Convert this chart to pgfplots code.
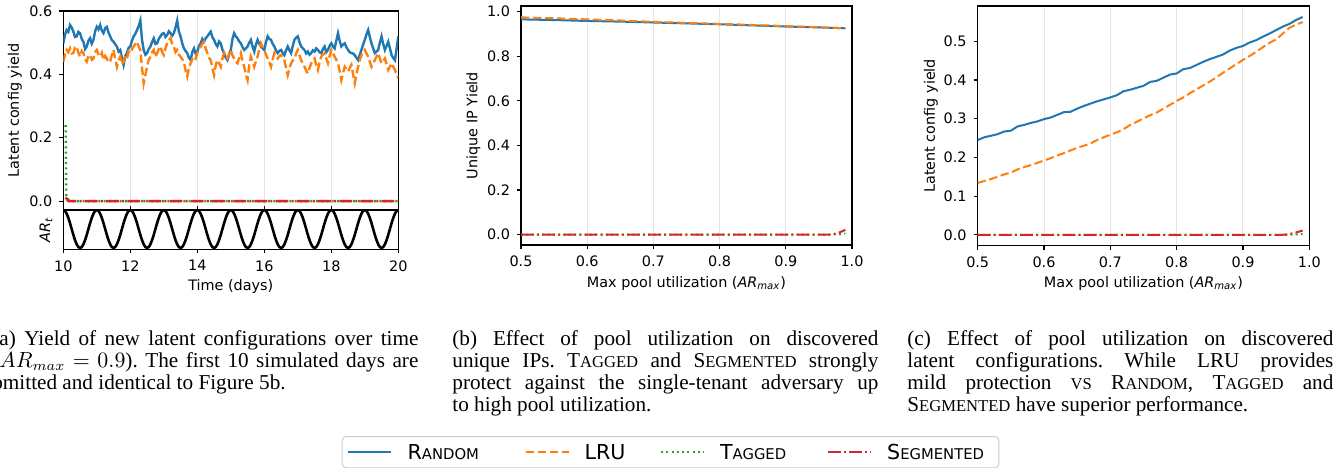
\documentclass[border=0pt]{standalone}
\usepackage{fontspec}
\setmainfont{Liberation Serif}
\newfontfamily\dv{DejaVu Sans}
\usepackage{pgfplots}
\usepackage{pgfplotstable}
\pgfplotsset{compat=1.18}

\definecolor{c1}{HTML}{1F77B4}
\definecolor{c2}{HTML}{FF7F0E}
\definecolor{c3}{HTML}{2CA02C}
\definecolor{c4}{HTML}{D62728}

\newcommand\tf{\dv\fontsize{7.2}{8.6}\selectfont}
\newcommand\cf{\fontsize{10.6}{11}\selectfont}
\newcommand\capsc[1]{{\fontsize{8.3}{9}\selectfont #1}}
\newcommand\legsc[1]{{\fontsize{7.4}{8}\selectfont #1}}
\newcommand\capline[3]{\node[anchor=base west, inner sep=0pt, font=\cf] at (#1,#2) {#3};}
\newcommand\jl[1]{\makebox[213pt][s]{#1}}

\pgfplotsset{
  mpl/.style={
    scale only axis, no markers,
    axis line style={line width=0.7pt},
    tick align=outside, xtick pos=left, ytick pos=left,
    major tick length=2pt,
    tick style={black, line width=0.6pt},
    tick label style={font=\tf},
    label style={font=\tf},
    /pgf/number format/assume math mode=true,
    /pgf/number format/fixed, /pgf/number format/fixed zerofill,
    /pgf/number format/precision=1,
    major grid style={line width=0.5pt, color=black!10},
  },
  rnd/.style={color=c1, line width=1pt},
  lru/.style={color=c2, line width=1pt, dash pattern=on 4.2pt off 1.8pt},
  tag/.style={color=c3, line width=1pt, dash pattern=on 1pt off 1.65pt},
  seg/.style={color=c4, line width=1pt, dash pattern=on 6.4pt off 1.6pt on 1pt off 1.6pt},
}

% (a) yield over time: t, random, lru, AR_t
\pgfplotstableread{
t r l a
10.00 0.498 0.440 1.000
10.05 0.525 0.462 0.951
10.10 0.540 0.477 0.809
10.15 0.534 0.470 0.588
10.20 0.556 0.482 0.309
10.25 0.548 0.466 0.000
10.30 0.535 0.467 -0.309
10.35 0.518 0.485 -0.588
10.40 0.520 0.488 -0.809
10.45 0.534 0.468 -0.951
10.50 0.530 0.456 -1.000
10.55 0.512 0.474 -0.951
10.60 0.503 0.467 -0.809
10.65 0.480 0.448 -0.588
10.70 0.488 0.440 -0.309
10.75 0.506 0.458 0.000
10.80 0.514 0.461 0.309
10.85 0.497 0.446 0.588
10.90 0.509 0.450 0.809
10.95 0.536 0.470 0.951
11.00 0.550 0.477 1.000
11.05 0.542 0.462 0.951
11.10 0.556 0.456 0.809
11.15 0.538 0.468 0.588
11.20 0.530 0.445 0.309
11.25 0.546 0.458 0.000
11.30 0.550 0.450 -0.309
11.35 0.532 0.438 -0.588
11.40 0.520 0.440 -0.809
11.45 0.508 0.462 -0.951
11.50 0.503 0.477 -1.000
11.55 0.495 0.448 -0.951
11.60 0.488 0.424 -0.809
11.65 0.472 0.446 -0.588
11.70 0.477 0.456 -0.309
11.75 0.452 0.432 0.000
11.80 0.430 0.440 0.309
11.85 0.458 0.458 0.588
11.90 0.467 0.450 0.809
11.95 0.484 0.472 0.951
12.00 0.488 0.467 1.000
12.05 0.506 0.480 0.951
12.10 0.520 0.488 0.809
12.15 0.528 0.496 0.588
12.20 0.540 0.503 0.309
12.25 0.552 0.488 0.000
12.30 0.570 0.477 -0.309
12.35 0.509 0.420 -0.588
12.40 0.477 0.372 -0.809
12.45 0.462 0.398 -0.951
12.50 0.467 0.424 -1.000
12.55 0.480 0.446 -0.951
12.60 0.488 0.456 -0.809
12.65 0.502 0.470 -0.588
12.70 0.514 0.477 -0.309
12.75 0.496 0.455 0.000
12.80 0.498 0.467 0.309
12.85 0.512 0.480 0.588
12.90 0.520 0.488 0.809
12.95 0.528 0.470 0.951
13.00 0.530 0.461 1.000
13.05 0.518 0.482 0.951
13.10 0.524 0.498 0.809
13.15 0.536 0.508 0.588
13.20 0.530 0.514 0.309
13.25 0.522 0.496 0.000
13.30 0.530 0.488 -0.309
13.35 0.548 0.470 -0.588
13.40 0.570 0.477 -0.809
13.45 0.535 0.462 -0.951
13.50 0.520 0.456 -1.000
13.55 0.498 0.448 -0.951
13.60 0.482 0.440 -0.809
13.65 0.474 0.412 -0.588
13.70 0.467 0.393 -0.309
13.75 0.452 0.420 0.000
13.80 0.445 0.435 0.309
13.85 0.470 0.448 0.588
13.90 0.482 0.456 0.809
13.95 0.466 0.450 0.951
14.00 0.472 0.467 1.000
14.05 0.490 0.478 0.951
14.10 0.498 0.488 0.809
14.15 0.512 0.496 0.588
14.20 0.503 0.503 0.309
14.25 0.514 0.482 0.000
14.30 0.520 0.467 -0.309
14.35 0.528 0.452 -0.588
14.40 0.535 0.445 -0.809
14.45 0.518 0.420 -0.951
14.50 0.509 0.398 -1.000
14.55 0.496 0.428 -0.951
14.60 0.488 0.445 -0.809
14.65 0.504 0.436 -0.588
14.70 0.498 0.424 -0.309
14.75 0.478 0.450 0.000
14.80 0.467 0.467 0.309
14.85 0.452 0.456 0.588
14.90 0.445 0.450 0.809
14.95 0.462 0.466 0.951
15.00 0.477 0.477 1.000
15.05 0.512 0.460 0.951
15.10 0.530 0.450 0.809
15.15 0.520 0.440 0.588
15.20 0.514 0.435 0.309
15.25 0.504 0.452 0.000
15.30 0.498 0.467 -0.309
15.35 0.486 0.442 -0.588
15.40 0.477 0.424 -0.809
15.45 0.482 0.400 -0.951
15.50 0.488 0.382 -1.000
15.55 0.500 0.430 -0.951
15.60 0.509 0.456 -0.809
15.65 0.488 0.440 -0.588
15.70 0.472 0.424 -0.309
15.75 0.494 0.442 0.000
15.80 0.509 0.456 0.309
15.85 0.496 0.480 0.588
15.90 0.488 0.498 0.809
15.95 0.482 0.486 0.951
16.00 0.477 0.477 1.000
16.05 0.502 0.462 0.951
16.10 0.520 0.450 0.809
16.15 0.512 0.438 0.588
16.20 0.509 0.424 0.309
16.25 0.496 0.448 0.000
16.30 0.488 0.467 -0.309
16.35 0.476 0.456 -0.588
16.40 0.467 0.450 -0.809
16.45 0.474 0.458 -0.951
16.50 0.477 0.461 -1.000
16.55 0.468 0.452 -0.951
16.60 0.461 0.445 -0.809
16.65 0.476 0.420 -0.588
16.70 0.488 0.398 -0.309
16.75 0.476 0.418 0.000
16.80 0.467 0.435 0.309
16.85 0.490 0.444 0.588
16.90 0.509 0.450 0.809
16.95 0.516 0.466 0.951
17.00 0.520 0.477 1.000
17.05 0.502 0.460 0.951
17.10 0.488 0.445 0.809
17.15 0.482 0.434 0.588
17.20 0.477 0.424 0.309
17.25 0.466 0.412 0.000
17.30 0.472 0.403 -0.309
17.35 0.462 0.420 -0.588
17.40 0.467 0.435 -0.809
17.45 0.476 0.444 -0.951
17.50 0.472 0.450 -1.000
17.55 0.482 0.430 -0.951
17.60 0.477 0.414 -0.809
17.65 0.470 0.438 -0.588
17.70 0.467 0.456 -0.309
17.75 0.480 0.462 0.000
17.80 0.488 0.467 0.309
17.85 0.470 0.450 0.588
17.90 0.477 0.435 0.809
17.95 0.490 0.458 0.951
18.00 0.498 0.477 1.000
18.05 0.488 0.466 0.951
18.10 0.482 0.456 0.809
18.15 0.506 0.446 0.588
18.20 0.530 0.435 0.309
18.25 0.506 0.410 0.000
18.30 0.488 0.382 -0.309
18.35 0.494 0.404 -0.588
18.40 0.498 0.424 -0.809
18.45 0.486 0.416 -0.951
18.50 0.477 0.409 -1.000
18.55 0.470 0.420 -0.951
18.60 0.467 0.430 -0.809
18.65 0.466 0.400 -0.588
18.70 0.461 0.372 -0.309
18.75 0.452 0.400 0.000
18.80 0.445 0.424 0.309
18.85 0.462 0.444 0.588
18.90 0.477 0.461 0.809
18.95 0.494 0.470 0.951
19.00 0.509 0.477 1.000
19.05 0.526 0.466 0.951
19.10 0.540 0.456 0.809
19.15 0.518 0.440 0.588
19.20 0.498 0.424 0.309
19.25 0.482 0.436 0.000
19.30 0.467 0.445 -0.309
19.35 0.472 0.456 -0.588
19.40 0.477 0.467 -0.809
19.45 0.500 0.450 -0.951
19.50 0.520 0.435 -1.000
19.55 0.496 0.442 -0.951
19.60 0.477 0.450 -0.809
19.65 0.490 0.432 -0.588
19.70 0.503 0.414 -0.309
19.75 0.482 0.424 0.000
19.80 0.461 0.435 0.309
19.85 0.452 0.424 0.588
19.90 0.445 0.414 0.809
19.95 0.482 0.400 0.951
20.00 0.520 0.388 1.000
}\tabA

% (b) unique IP yield
\pgfplotstableread{
x r l
0.50 0.965 0.974
0.55 0.962 0.970
0.60 0.958 0.965
0.65 0.955 0.960
0.70 0.951 0.954
0.75 0.947 0.949
0.80 0.943 0.945
0.85 0.938 0.940
0.90 0.933 0.935
0.95 0.929 0.930
0.99 0.925 0.925
}\tabB

% (c) latent config yield
\pgfplotstableread{
x r l
0.50 0.245 0.134
0.51 0.252 0.139
0.52 0.256 0.144
0.53 0.260 0.150
0.54 0.267 0.156
0.55 0.269 0.161
0.56 0.280 0.169
0.57 0.284 0.175
0.58 0.289 0.180
0.59 0.293 0.186
0.60 0.299 0.192
0.61 0.303 0.198
0.62 0.310 0.205
0.63 0.317 0.211
0.64 0.318 0.218
0.65 0.326 0.225
0.66 0.333 0.230
0.67 0.339 0.236
0.68 0.345 0.245
0.69 0.350 0.252
0.70 0.355 0.259
0.71 0.361 0.265
0.72 0.371 0.273
0.73 0.375 0.284
0.74 0.380 0.292
0.75 0.385 0.301
0.76 0.395 0.309
0.77 0.398 0.316
0.78 0.406 0.326
0.79 0.414 0.336
0.80 0.417 0.346
0.81 0.428 0.355
0.82 0.431 0.366
0.83 0.439 0.376
0.84 0.447 0.386
0.85 0.454 0.396
0.86 0.460 0.407
0.87 0.466 0.419
0.88 0.476 0.430
0.89 0.483 0.441
0.90 0.488 0.452
0.91 0.497 0.462
0.92 0.503 0.473
0.93 0.512 0.485
0.94 0.520 0.496
0.95 0.529 0.505
0.96 0.538 0.520
0.97 0.545 0.535
0.98 0.555 0.543
0.99 0.563 0.550
}\tabC

\begin{document}
\frenchspacing
\begin{tikzpicture}
\path[use as bounding box] (0,0) rectangle (667pt,-233.5pt);
\clip (0,0) rectangle (667pt,-233.5pt);

% ---- (a) main
\begin{axis}[mpl,
  at={(31.65pt,-105pt)}, anchor=south west,
  width=167.5pt, height=99.5pt,
  xmin=10, xmax=20, ymin=-0.028, ymax=0.6,
  xtick={10,12,14,16,18,20}, xticklabels={}, xtick align=inside,
  ytick={0,0.2,0.4,0.6},
  xmajorgrids,
  ylabel={Latent config yield},
  ylabel style={at={(axis description cs:-0.1443,0.5)}, anchor=center},
]
\addplot[rnd, line width=1.2pt] table[x=t, y=r] {\tabA};
\addplot[lru, line width=1.2pt] table[x=t, y=l] {\tabA};
\addplot[tag, line width=1.2pt] coordinates {(10.07,0.24) (10.09,0.012) (10.2,0.0) (20,0.0)};
\addplot[seg, line width=1.2pt] coordinates {(10.07,0.012) (10.15,0.0) (20,0.0)};
\end{axis}

% ---- (a) AR_t strip
\begin{axis}[mpl,
  at={(31.65pt,-124.65pt)}, anchor=south west,
  width=167.5pt, height=19.65pt,
  xmin=10, xmax=20, ymin=-1.07, ymax=1.0,
  xtick={10,12,14,16,18,20}, ytick=\empty,
  xticklabel style={/pgf/number format/precision=0},
  xlabel={Time (days)},
  xlabel style={at={(axis description cs:0.5,-0.952)}, anchor=center},
  ylabel={\textit{AR}\textsubscript{\textit{t}}},
  ylabel style={at={(axis description cs:-0.0517,0.5)}, anchor=center},
]
\addplot[black, line width=1.3pt] table[x=t, y=a] {\tabA};
\end{axis}

% ---- (b)
\begin{axis}[mpl,
  at={(260.5pt,-122.5pt)}, anchor=south west,
  width=165.5pt, height=119.5pt,
  xmin=0.5, xmax=1.0, ymin=-0.047, ymax=1.025,
  xtick={0.5,0.6,0.7,0.8,0.9,1.0}, ytick={0,0.2,0.4,0.6,0.8,1.0},
  xmajorgrids,
  xlabel={Max pool utilization (\textit{AR}\textsubscript{\textit{max}})},
  xlabel style={at={(axis description cs:0.5,-0.160)}, anchor=center},
  ylabel={Unique IP Yield},
  ylabel style={at={(axis description cs:-0.144,0.5)}, anchor=center},
  legend columns=4,
  legend image code/.code={\draw[#1, line width=1.2pt] (0pt,0pt) -- (21.5pt,0pt);},
  legend style={at={(-0.5417,-0.7992)}, anchor=north west,
    draw=black!20, rounded corners=2pt, line width=0.5pt, fill=white,
    inner xsep=2.5pt, inner ysep=4.25pt, cells={anchor=west},
    nodes={inner sep=0pt, text height=7.2pt, text depth=0pt,
      font=\dv\fontsize{10.3}{10}\selectfont},
    /tikz/every odd column/.append style={column sep=7.5pt}},
]
\addplot[rnd] table[x=x, y=r] {\tabB};
\addlegendentry{\makebox[58.35pt][l]{R\legsc{ANDOM}}}
\addplot[lru] table[x=x, y=l] {\tabB};
\addlegendentry{\makebox[37.5pt][l]{LRU}}
\addplot[tag] coordinates {(0.5,0) (0.97,0) (0.98,0.001) (0.99,0.004)};
\addlegendentry{\makebox[53.35pt][l]{T\legsc{AGGED}}}
\addplot[seg] coordinates {(0.5,0) (0.97,0) (0.98,0.008) (0.99,0.021)};
\addlegendentry{\makebox[53.3pt][l]{S\legsc{EGMENTED}}}
\end{axis}

% ---- (c)
\begin{axis}[mpl,
  at={(488.85pt,-122.85pt)}, anchor=south west,
  width=165.8pt, height=119.85pt,
  xmin=0.5, xmax=1.0, ymin=-0.0282, ymax=0.5913,
  xtick={0.5,0.6,0.7,0.8,0.9,1.0}, ytick={0,0.1,0.2,0.3,0.4,0.5},
  xmajorgrids,
  xlabel={Max pool utilization (\textit{AR}\textsubscript{\textit{max}})},
  xlabel style={at={(axis description cs:0.5,-0.1565)}, anchor=center},
  ylabel={Latent config yield},
  ylabel style={at={(axis description cs:-0.1408,0.5)}, anchor=center},
]
\addplot[rnd] table[x=x, y=r] {\tabC};
\addplot[lru] table[x=x, y=l] {\tabC};
\addplot[tag] coordinates {(0.5,0) (0.97,0) (0.98,0.001) (0.99,0.002)};
\addplot[seg] coordinates {(0.5,0) (0.96,0) (0.97,0.002) (0.98,0.006) (0.99,0.011)};
\end{axis}

% ---- captions
\capline{-4pt}{-172.5pt}{\jl{(a) Yield of new latent configurations over time}}
\capline{-4pt}{-183.6pt}{\jl{($AR_{max}\!=\!0.9$). The first 10 simulated days are}}
\capline{-4pt}{-194.7pt}{omitted and identical to Figure 5b.}

\capline{226pt}{-172.5pt}{\jl{(b) Effect of pool utilization on discovered}}
\capline{226pt}{-183.6pt}{\jl{unique IPs. T\capsc{AGGED} and S\capsc{EGMENTED} strongly}}
\capline{226pt}{-194.7pt}{\jl{protect against the single-tenant adversary up}}
\capline{226pt}{-205.8pt}{to high pool utilization.}

\capline{453.5pt}{-172.5pt}{\jl{(c) Effect of pool utilization on discovered}}
\capline{453.5pt}{-183.6pt}{\jl{latent configurations. While LRU provides}}
\capline{453.5pt}{-194.7pt}{\jl{mild protection \capsc{VS} R\capsc{ANDOM}, T\capsc{AGGED} and}}
\capline{453.5pt}{-205.8pt}{S\capsc{EGMENTED} have superior performance.}
\end{tikzpicture}
\end{document}
